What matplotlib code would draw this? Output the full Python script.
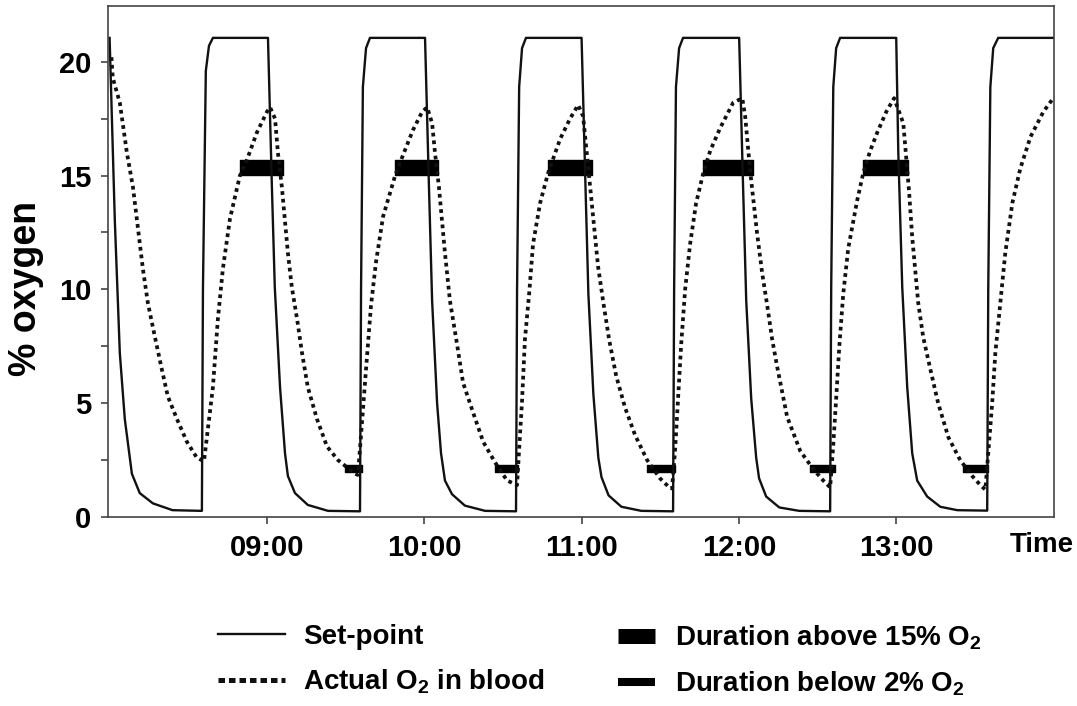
import matplotlib.pyplot as plt
from matplotlib.lines import Line2D
from matplotlib.ticker import FixedLocator, MultipleLocator

plt.rcParams['font.family'] = ['Liberation Sans', 'DejaVu Sans']
plt.rcParams['font.weight'] = 'bold'
plt.rcParams['mathtext.fontset'] = 'custom'
plt.rcParams['mathtext.rm'] = 'Liberation Sans:bold'
plt.rcParams['mathtext.it'] = 'Liberation Sans:bold'
plt.rcParams['mathtext.bf'] = 'Liberation Sans:bold'

# time in minutes after 08:00
sp_t = [0, 2.0, 3.9, 5.8, 8.5, 11.5, 16.5, 24.0, 35.2, 35.6, 36.7, 37.9, 39.4,
        60.4, 61.9, 63.0, 65.0, 66.9, 68.0, 70.7, 75.6, 83.3, 95.5, 95.9, 96.6, 97.8, 99.3,
        120.3, 121.8, 123.0, 124.9, 126.4, 127.9, 130.6, 135.5, 143.2, 155.0, 155.4, 156.2, 157.3, 158.8,
        180.0, 181.5, 182.6, 184.5, 186.4, 187.6, 190.3, 195.2, 202.8, 214.9, 215.3, 216.0, 217.2, 218.7,
        240.1, 241.6, 242.8, 244.7, 246.6, 247.7, 250.4, 255.4, 263.0, 274.8, 275.2, 276.0, 277.1, 278.6,
        300.0, 300.8, 302.3, 304.2, 306.1, 308.0, 311.8, 316.8, 323.3, 334.7, 335.1, 335.9, 337.0, 338.9, 360.3]
sp_v = [21.05, 13.0, 7.2, 4.3, 1.9, 1.05, 0.6, 0.3, 0.27, 10.0, 19.6, 20.7, 21.05,
        21.05, 14.5, 10.1, 5.7, 2.8, 1.8, 1.05, 0.53, 0.27, 0.25, 10.0, 18.9, 20.6, 21.05,
        21.05, 14.5, 9.5, 5.0, 2.8, 1.6, 1.0, 0.5, 0.27, 0.25, 10.0, 18.9, 20.6, 21.05,
        21.05, 14.5, 9.8, 5.4, 2.6, 1.75, 0.95, 0.45, 0.27, 0.25, 10.0, 18.9, 20.6, 21.05,
        21.05, 14.5, 9.5, 5.2, 2.6, 1.7, 0.9, 0.42, 0.27, 0.25, 10.0, 18.9, 20.6, 21.05,
        21.05, 16.0, 10.1, 5.7, 2.8, 1.6, 0.9, 0.45, 0.3, 0.28, 10.0, 18.9, 20.6, 21.05, 21.05]

o2_t = [0.7, 1.2, 3.9, 6.6, 8.9, 10.8, 12.7, 14.6, 17.3, 19.9, 22.2, 25.7, 29.5, 33.3, 36.0,
        37.1, 39.4, 41.3, 43.2, 45.9, 49.7, 52.4, 56.2, 60.0, 61.2,
        63.1, 64.2, 65.7, 66.9, 68.0, 69.5, 71.5, 73.4, 75.6, 79.1, 82.9, 87.1, 90.9, 93.6, 94.7,
        95.9, 97.8, 99.7, 101.6, 104.3, 108.9, 111.9, 115.7, 119.2, 121.1,
        123.0, 124.1, 125.6, 126.8, 127.9, 129.8, 132.5, 134.8, 138.6, 142.5, 147.0, 151.6, 154.6, 155.4,
        156.2, 157.3, 158.4, 160.0, 161.5, 164.2, 167.2, 171.8, 175.6, 178.7,
        180.6, 182.5, 184.4, 186.3, 188.2, 190.5, 193.2, 196.6, 200.4, 205.0, 209.9, 213.0, 214.5,
        215.7, 216.8, 218.0, 219.5, 221.4, 223.7, 226.4, 229.1, 232.9, 237.8, 241.3,
        242.4, 244.3, 246.9, 248.9, 250.8, 252.7, 254.6, 258.4, 263.4, 268.4, 272.2, 274.8,
        275.9, 277.1, 278.3, 279.8, 281.7, 285.1, 287.4, 290.1, 292.8, 296.2, 299.2,
        302.7, 303.8, 304.9, 306.1, 307.2, 308.4, 310.3, 313.0, 316.0, 319.9, 324.4, 329.0, 332.1, 334.0,
        335.1, 336.6, 337.8, 339.7, 341.6, 344.3, 347.3, 351.2, 356.1, 359.9]
o2_v = [20.2, 19.3, 18.2, 16.0, 14.5, 12.7, 10.9, 9.4, 7.9, 6.5, 5.3, 4.3, 3.3, 2.6, 2.45,
        3.5, 5.7, 8.7, 10.9, 13.1, 15.0, 15.7, 16.9, 17.8, 18.0,
        17.5, 16.0, 14.5, 13.0, 11.6, 10.1, 8.7, 7.2, 5.7, 4.3, 3.1, 2.5, 2.15, 1.9, 1.85,
        3.6, 6.5, 9.3, 11.2, 13.2, 15.0, 15.9, 17.0, 17.8, 18.0,
        17.3, 16.0, 14.5, 13.0, 11.6, 9.5, 7.6, 5.9, 4.6, 3.3, 2.4, 1.6, 1.45, 1.4,
        3.0, 5.1, 7.8, 9.8, 12.0, 13.8, 15.1, 16.6, 17.5, 18.1,
        17.6, 15.4, 13.2, 11.0, 9.5, 7.8, 6.2, 4.8, 3.6, 2.5, 1.7, 1.35, 1.25,
        3.0, 5.2, 7.6, 10.0, 12.0, 13.8, 15.1, 16.1, 17.1, 18.2, 18.4,
        17.6, 15.2, 12.5, 10.7, 9.3, 7.8, 6.6, 4.4, 2.9, 2.1, 1.6, 1.3,
        3.0, 5.2, 7.5, 9.8, 11.8, 13.9, 15.1, 16.1, 16.9, 17.8, 18.4,
        17.3, 15.8, 14.3, 12.3, 10.9, 9.4, 7.9, 6.5, 5.0, 3.5, 2.5, 1.8, 1.4, 1.2,
        2.8, 5.0, 7.2, 9.4, 11.6, 13.8, 15.3, 16.7, 17.8, 18.4]

# durations above 15% and below 2% (start, end in minutes after 08:00)
above_start = [49.7, 108.9, 167.2, 226.4, 287.4]
above_end = [66.1, 125.2, 184.0, 245.4, 304.6]
below_start = [89.8, 147.0, 205.0, 267.2, 325.6]
below_end = [96.3, 155.8, 215.7, 276.7, 335.1]

tick_pos = [60, 120, 180, 240, 300]
tick_labels = ['09:00', '10:00', '11:00', '12:00', '13:00']

fig = plt.figure(figsize=(10.77, 7.06), dpi=100)
ax = fig.add_axes([0.1003, 0.2677, 0.8784, 0.7238])

ax.plot(sp_t, sp_v, color='#111111', lw=1.7, solid_joinstyle='round')
ax.plot(o2_t, o2_v, color='#111111', lw=2.7, linestyle=(0, (1.0, 1.05)))
ax.broken_barh([(s, e - s) for s, e in zip(above_start, above_end)], (15.03, 0.66),
               color='black')
ax.broken_barh([(s, e - s) for s, e in zip(below_start, below_end)], (1.98, 0.3),
               color='black')

ax.set_xlim(-0.6, 360.2)
ax.set_ylim(0, 22.45)
ax.xaxis.set_major_locator(FixedLocator(tick_pos))
ax.set_xticklabels(tick_labels)
ax.yaxis.set_major_locator(MultipleLocator(5))
ax.yaxis.set_minor_locator(MultipleLocator(2.5))
ax.tick_params(axis='both', which='both', direction='out', length=5, width=1.2,
               color='#444444', labelsize=21, pad=7)
for sp in ax.spines.values():
    sp.set_color('#444444')
    sp.set_linewidth(1.2)

fig.text(0.024, 0.592, '% oxygen', rotation=90, ha='center', va='center',
         fontsize=27, fontweight='bold')
fig.text(1074 / 1077, 1 - 545 / 706, 'Time', ha='right', va='center',
         fontsize=20, fontweight='bold')

h1 = [Line2D([], [], color='#111111', lw=1.7),
      Line2D([], [], color='#111111', lw=3.6, linestyle=(0, (1.3, 0.8)))]
leg1 = fig.legend(h1, ['Set-point', r'Actual O$_2$ in blood'], loc='upper left',
                  bbox_to_anchor=(218 / 1077, 1 - 624 / 706), frameon=False,
                  fontsize=20, handlelength=2.41, handletextpad=0.65,
                  labelspacing=0.62, borderpad=0, borderaxespad=0)
h2 = [Line2D([], [], color='black', lw=10.8, solid_capstyle='butt'),
      Line2D([], [], color='black', lw=5.8, solid_capstyle='butt')]
leg2 = fig.legend(h2, [r'Duration above 15% O$_2$', r'Duration below 2% O$_2$'],
                  loc='upper left', bbox_to_anchor=(618 / 1077, 1 - 624 / 706),
                  frameon=False, fontsize=20, handlelength=1.33, handletextpad=0.72,
                  labelspacing=0.62, borderpad=0, borderaxespad=0)

fig.savefig('out.png', dpi=100)
